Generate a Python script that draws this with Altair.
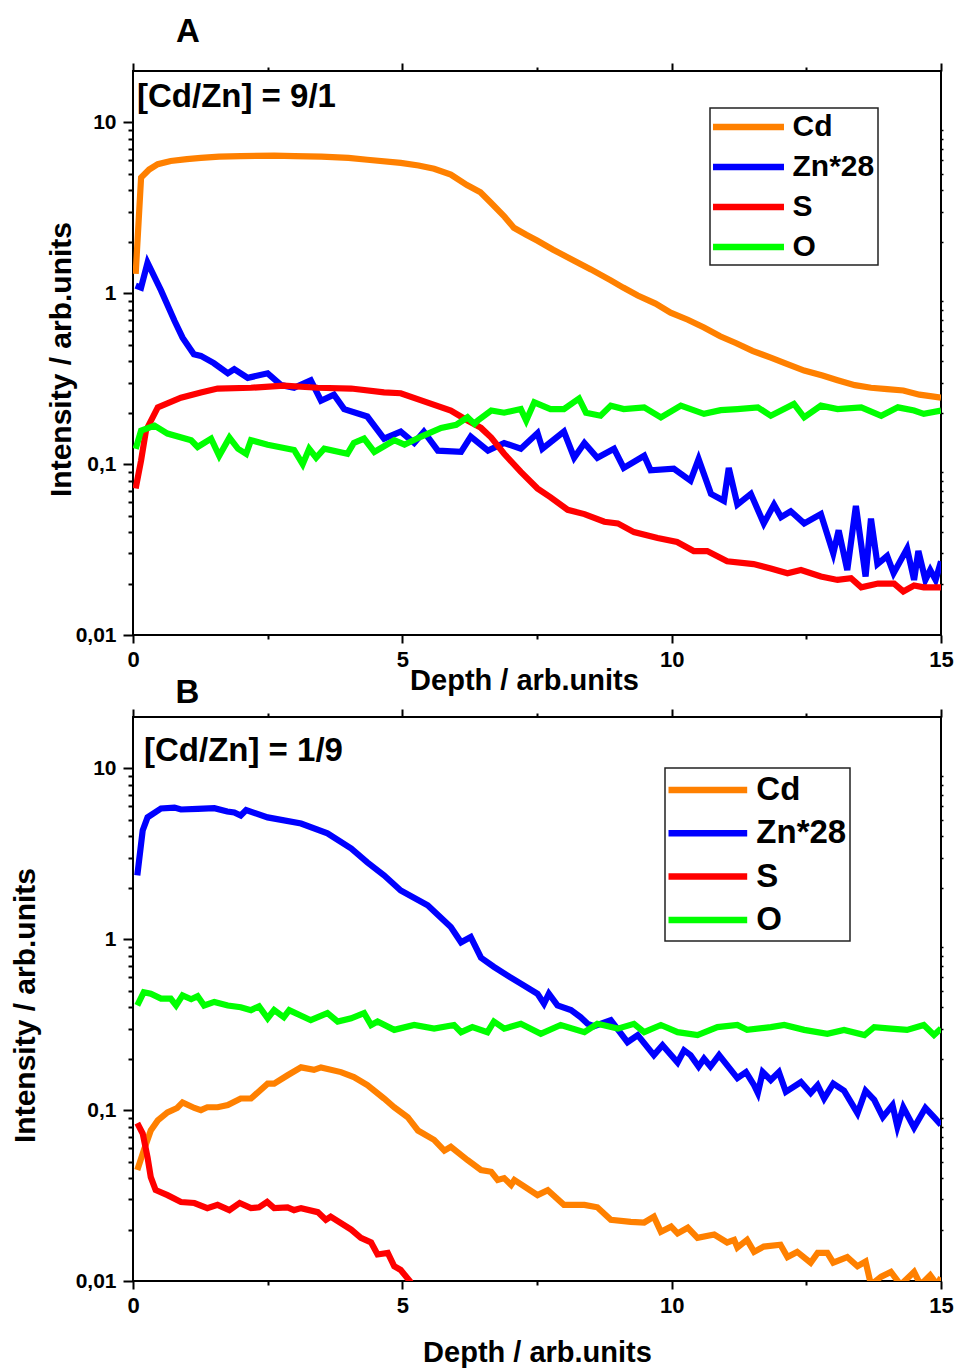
import altair as alt
import pandas as pd

FONT = "Liberation Sans"

elements = ["Cd", "Zn*28", "S", "O"]
colors = ["#FF8000", "#0000FF", "#FF0000", "#00FF00"]

# ---------------- Panel A : [Cd/Zn] = 9/1 ----------------
a_cd_x = [0.05, 0.15, 0.3, 0.46, 0.7, 1.0, 1.26, 1.6, 2.0, 2.62, 3.0, 3.5, 4.0, 4.35, 4.97, 5.3, 5.59,
          5.9, 6.2, 6.45, 6.64, 6.9, 7.07, 7.3, 7.51, 7.8, 8.19, 8.5, 8.87, 9.1, 9.37, 9.7, 9.98, 10.3,
          10.6, 10.9, 11.2, 11.5, 11.84, 12.1, 12.46, 12.8, 13.08, 13.4, 13.7, 14.0, 14.3, 14.6, 14.8, 15.0]
a_cd_y = [1.3, 4.75, 5.3, 5.7, 5.95, 6.1, 6.2, 6.3, 6.35, 6.4, 6.35, 6.3, 6.2, 6.05, 5.8, 5.6, 5.36,
          4.95, 4.3, 3.9, 3.4, 2.8, 2.42, 2.2, 2.03, 1.8, 1.55, 1.38, 1.19, 1.08, 0.97, 0.87, 0.77, 0.7,
          0.63, 0.56, 0.51, 0.46, 0.42, 0.39, 0.353, 0.33, 0.31, 0.29, 0.28, 0.275, 0.27, 0.255, 0.25, 0.245]

a_zn_x = [0.05, 0.15, 0.27, 0.52, 0.77, 0.92, 1.13, 1.26, 1.5, 1.76, 1.88, 2.13, 2.5, 2.75, 2.99, 3.3,
          3.49, 3.73, 3.92, 4.35, 4.66, 4.97, 5.22, 5.4, 5.66, 6.09, 6.27, 6.59, 6.89, 7.2, 7.51, 7.6,
          8.0, 8.19, 8.38, 8.62, 8.93, 9.11, 9.49, 9.61, 10.04, 10.35, 10.5, 10.73, 10.97, 11.06, 11.22,
          11.47, 11.71, 11.9, 12.03, 12.21, 12.46, 12.77, 13.0, 13.1, 13.26, 13.42, 13.6, 13.7, 13.82,
          14.0, 14.12, 14.37, 14.5, 14.58, 14.71, 14.8, 14.9, 15.0]
a_zn_y = [1.11, 1.08, 1.51, 1.04, 0.69, 0.55, 0.44, 0.43, 0.39, 0.34, 0.36, 0.32, 0.34, 0.29, 0.28, 0.31,
          0.235, 0.255, 0.21, 0.19, 0.141, 0.155, 0.133, 0.155, 0.12, 0.118, 0.145, 0.12, 0.133, 0.123,
          0.152, 0.123, 0.155, 0.109, 0.133, 0.109, 0.123, 0.095, 0.112, 0.092, 0.094, 0.08, 0.107,
          0.067, 0.061, 0.095, 0.058, 0.067, 0.045, 0.058, 0.049, 0.053, 0.045, 0.051, 0.030, 0.041,
          0.024, 0.057, 0.022, 0.048, 0.026, 0.029, 0.023, 0.032, 0.021, 0.031, 0.021, 0.024, 0.021, 0.027]

a_s_x = [0.05, 0.15, 0.24, 0.46, 0.89, 1.26, 1.57, 2.19, 2.8, 3.43, 4.05, 4.66, 4.97, 5.35, 5.9, 6.21,
         6.46, 6.65, 6.89, 7.2, 7.51, 7.75, 8.07, 8.38, 8.75, 9.0, 9.3, 9.74, 10.1, 10.41, 10.66, 11.03,
         11.52, 11.84, 12.15, 12.4, 12.77, 13.08, 13.33, 13.52, 13.83, 14.13, 14.3, 14.5, 14.68, 15.0]
a_s_y = [0.072, 0.105, 0.157, 0.215, 0.245, 0.263, 0.277, 0.28, 0.288, 0.28, 0.277, 0.263, 0.26, 0.236,
         0.206, 0.18, 0.163, 0.143, 0.115, 0.09, 0.072, 0.064, 0.054, 0.051, 0.046, 0.045, 0.04, 0.037,
         0.035, 0.031, 0.031, 0.027, 0.026, 0.0245, 0.023, 0.024, 0.022, 0.021, 0.0215, 0.019, 0.020,
         0.020, 0.018, 0.0195, 0.019, 0.019]

a_o_x = [0.05, 0.15, 0.4, 0.64, 1.08, 1.2, 1.45, 1.6, 1.79, 1.95, 2.1, 2.19, 2.5, 2.99, 3.15, 3.27, 3.4,
         3.55, 3.98, 4.1, 4.29, 4.48, 4.85, 5.04, 5.35, 5.72, 6.0, 6.21, 6.34, 6.4, 6.65, 6.89, 7.2, 7.3,
         7.45, 7.75, 8.0, 8.28, 8.41, 8.68, 8.87, 9.11, 9.49, 9.8, 10.17, 10.6, 10.91, 11.22, 11.6,
         11.84, 12.27, 12.46, 12.77, 13.08, 13.52, 13.89, 14.2, 14.5, 14.68, 15.0]
a_o_y = [0.123, 0.157, 0.168, 0.151, 0.138, 0.126, 0.141, 0.112, 0.143, 0.123, 0.115, 0.138, 0.13, 0.121,
         0.1, 0.123, 0.109, 0.123, 0.115, 0.133, 0.141, 0.118, 0.138, 0.13, 0.145, 0.163, 0.17, 0.188,
         0.172, 0.18, 0.206, 0.2, 0.21, 0.18, 0.23, 0.21, 0.21, 0.242, 0.2, 0.192, 0.22, 0.21, 0.215,
         0.188, 0.22, 0.197, 0.207, 0.21, 0.215, 0.192, 0.225, 0.188, 0.22, 0.21, 0.215, 0.192, 0.215,
         0.206, 0.197, 0.206]

# ---------------- Panel B : [Cd/Zn] = 1/9 ----------------
b_cd_x = [0.08, 0.2, 0.33, 0.46, 0.64, 0.82, 0.92, 1.14, 1.26, 1.38, 1.57, 1.76, 2.0, 2.19, 2.5, 2.62,
          2.87, 3.12, 3.36, 3.49, 3.86, 4.1, 4.35, 4.66, 4.85, 5.1, 5.29, 5.59, 5.78, 5.9, 6.21, 6.46,
          6.65, 6.77, 6.89, 7.02, 7.08, 7.51, 7.7, 8.0, 8.38, 8.62, 8.87, 9.24, 9.49, 9.67, 9.8, 9.99,
          10.11, 10.3, 10.48, 10.79, 11.03, 11.16, 11.22, 11.4, 11.53, 11.71, 12.02, 12.15, 12.33, 12.58,
          12.71, 12.89, 13.0, 13.26, 13.45, 13.6, 13.7, 13.89, 14.07, 14.25, 14.5, 14.62, 14.8, 14.93, 15.0]
b_cd_y = [0.0446, 0.058, 0.076, 0.087, 0.097, 0.103, 0.111, 0.103, 0.1, 0.104, 0.104, 0.107, 0.117, 0.117,
          0.143, 0.143, 0.16, 0.178, 0.172, 0.178, 0.167, 0.156, 0.14, 0.117, 0.104, 0.091, 0.076, 0.067,
          0.058, 0.061, 0.051, 0.0446, 0.0436, 0.039, 0.04, 0.0365, 0.039, 0.0318, 0.034, 0.0279, 0.0279,
          0.027, 0.0228, 0.0222, 0.022, 0.0238, 0.0194, 0.0208, 0.019, 0.0205, 0.0179, 0.0187, 0.0168,
          0.0174, 0.0157, 0.0174, 0.0148, 0.0159, 0.0163, 0.0138, 0.0148, 0.0128, 0.0146, 0.0146, 0.0128,
          0.0138, 0.0122, 0.013, 0.0095, 0.0106, 0.0113, 0.0095, 0.0113, 0.0095, 0.0108, 0.0095, 0.0105]

b_zn_x = [0.08, 0.18, 0.27, 0.52, 0.77, 0.89, 1.2, 1.51, 1.75, 1.88, 2.0, 2.1, 2.5, 3.12, 3.61, 4.05,
          4.35, 4.66, 4.97, 5.47, 5.9, 6.09, 6.27, 6.46, 6.7, 7.0, 7.2, 7.51, 7.63, 7.72, 7.88, 8.13,
          8.31, 8.44, 8.56, 8.87, 9.18, 9.37, 9.67, 9.83, 10.11, 10.23, 10.35, 10.5, 10.6, 10.72, 10.88,
          11.22, 11.38, 11.53, 11.6, 11.69, 11.84, 11.99, 12.12, 12.4, 12.58, 12.71, 12.83, 13.0, 13.2,
          13.45, 13.6, 13.76, 13.92, 14.1, 14.19, 14.3, 14.5, 14.71, 14.87, 15.0]
b_zn_y = [2.37, 4.34, 5.17, 5.83, 5.9, 5.75, 5.8, 5.85, 5.6, 5.53, 5.3, 5.7, 5.17, 4.76, 4.17, 3.4,
          2.82, 2.37, 1.93, 1.58, 1.18, 0.96, 1.03, 0.78, 0.69, 0.6, 0.55, 0.48, 0.42, 0.48, 0.41, 0.385,
          0.35, 0.32, 0.31, 0.336, 0.25, 0.275, 0.21, 0.24, 0.19, 0.224, 0.21, 0.18, 0.2, 0.18, 0.21,
          0.154, 0.167, 0.14, 0.126, 0.167, 0.15, 0.167, 0.128, 0.146, 0.126, 0.14, 0.117, 0.143, 0.13,
          0.096, 0.13, 0.115, 0.091, 0.107, 0.08, 0.104, 0.079, 0.103, 0.091, 0.082]

b_s_x = [0.08, 0.18, 0.27, 0.33, 0.42, 0.64, 0.89, 1.14, 1.38, 1.57, 1.79, 1.98, 2.19, 2.34, 2.49, 2.62,
         2.87, 2.99, 3.12, 3.43, 3.58, 3.67, 3.86, 4.05, 4.23, 4.42, 4.54, 4.73, 4.85, 4.97, 5.16]
b_s_y = [0.084, 0.073, 0.053, 0.0405, 0.0341, 0.0318, 0.029, 0.0286, 0.0267, 0.0279, 0.026, 0.0286,
         0.0267, 0.027, 0.029, 0.0267, 0.027, 0.026, 0.0267, 0.0253, 0.0228, 0.0238, 0.0218, 0.02,
         0.0179, 0.0168, 0.0143, 0.0146, 0.0122, 0.0116, 0.0098]

b_o_x = [0.08, 0.2, 0.33, 0.52, 0.7, 0.8, 0.92, 1.08, 1.2, 1.32, 1.51, 1.76, 2.0, 2.19, 2.34, 2.5, 2.62,
         2.8, 2.9, 3.3, 3.61, 3.8, 4.05, 4.29, 4.42, 4.54, 4.85, 5.22, 5.59, 5.96, 6.09, 6.3, 6.58, 6.7,
         6.89, 7.2, 7.57, 7.94, 8.38, 8.62, 9.0, 9.3, 9.49, 9.8, 10.11, 10.48, 10.85, 11.22, 11.4, 11.84,
         12.09, 12.46, 12.89, 13.2, 13.58, 13.76, 14.07, 14.37, 14.68, 14.87, 15.0]
b_o_y = [0.41, 0.49, 0.48, 0.45, 0.45, 0.41, 0.47, 0.446, 0.465, 0.41, 0.43, 0.41, 0.4, 0.385, 0.405,
         0.345, 0.385, 0.35, 0.385, 0.336, 0.37, 0.33, 0.345, 0.37, 0.315, 0.33, 0.295, 0.315, 0.3, 0.315,
         0.286, 0.306, 0.286, 0.33, 0.3, 0.32, 0.28, 0.315, 0.286, 0.32, 0.3, 0.32, 0.286, 0.315, 0.286,
         0.275, 0.306, 0.315, 0.295, 0.306, 0.315, 0.295, 0.28, 0.295, 0.275, 0.306, 0.3, 0.295, 0.315,
         0.275, 0.3]

# ---------------- axis ticks ----------------
x_ticks = [0, 2.5, 5, 7.5, 10, 12.5, 15]
x_major = [0, 5, 10, 15]
y_major = [0.01, 0.1, 1, 10]
y_major_text = ["0,01", "0,1", "1", "10"]
y_minor = [0.02, 0.03, 0.04, 0.05, 0.06, 0.07, 0.08, 0.09,
           0.2, 0.3, 0.4, 0.5, 0.6, 0.7, 0.8, 0.9,
           2, 3, 4, 5, 6, 7, 8, 9]
y_ticks = sorted(y_major + y_minor)

W, H = 808, 564

y_label_expr = " : ".join(f"datum.value == {v} ? '{t}'" for v, t in zip(y_major, y_major_text)) + " : ''"
x_major_list = "[" + ",".join(str(v) for v in x_major) + "]"
y_major_list = "[" + ",".join(str(v) for v in y_major) + "]"
x_label_expr = f"indexof({x_major_list}, datum.value) >= 0 ? datum.label : ''"


def long_df(series):
    rows = []
    for name, xs, ys in series:
        for xv, yv in zip(xs, ys):
            rows.append({"depth": xv, "intensity": yv, "element": name})
    return pd.DataFrame(rows)


def panel(df, letter, letter_pos, note, note_pos, legend, xtitle_pos, ytitle_pos, anchor=False):
    x_scale = alt.Scale(domain=[0, 15], nice=False, zero=False)
    y_scale = alt.Scale(type="log", domain=[0.01, 20], nice=False)

    x_axis = alt.Axis(values=x_ticks, labelExpr=x_label_expr, labelFlush=False, labelOverlap=False,
                      tickSize={"condition": {"test": f"indexof({x_major_list}, datum.value) >= 0", "value": 8}, "value": 4},
                      tickWidth=2, labelFontSize=22, labelPadding=6,
                      title="Depth / arb.units", titleFontSize=29, titleX=xtitle_pos[0], titleY=xtitle_pos[1],
                      titleAlign="center", titleBaseline="alphabetic", titleAngle=0)
    y_axis = alt.Axis(values=y_ticks, labelExpr=y_label_expr, labelFlush=False, labelOverlap=False,
                      tickSize={"condition": {"test": f"indexof({y_major_list}, datum.value) >= 0", "value": 10}, "value": 5},
                      tickWidth=2, labelFontSize=21, labelPadding=7, labelBaseline="middle",
                      title="Intensity / arb.units", titleFontSize=30, titleX=ytitle_pos[0], titleY=ytitle_pos[1],
                      titleAngle=270, titleAlign="center", titleBaseline="alphabetic")

    lines = alt.Chart(df).mark_line(strokeWidth=6.2, clip=True).encode(
        x=alt.X("depth:Q", scale=x_scale, axis=x_axis),
        y=alt.Y("intensity:Q", scale=y_scale, axis=y_axis),
        color=alt.Color("element:N", scale=alt.Scale(domain=elements, range=colors), legend=legend),
    )

    frame_axes = alt.Chart(df).mark_point(opacity=0).encode(
        x=alt.X("depth:Q", scale=x_scale, axis=alt.Axis(orient="top", values=x_ticks, labels=False, title=None,
                                                         tickSize={"condition": {"test": f"indexof({x_major_list}, datum.value) >= 0", "value": 8}, "value": 4},
                                                         tickWidth=2)),
        y=alt.Y("intensity:Q", scale=y_scale, axis=alt.Axis(orient="right", values=y_minor, labels=False, title=None,
                                                             tickSize=2, tickWidth=1.5)),
    )

    one = pd.DataFrame({"t": [letter], "n": [note]})
    letter_mark = alt.Chart(one).mark_text(font=FONT, fontSize=33, fontWeight="bold", align="center",
                                           baseline="alphabetic", color="black").encode(
        text="t:N", x=alt.value(letter_pos[0]), y=alt.value(letter_pos[1]))
    note_mark = alt.Chart(one).mark_text(font=FONT, fontSize=33, fontWeight="bold", align="left",
                                         baseline="alphabetic", color="black").encode(
        text="n:N", x=alt.value(note_pos[0]), y=alt.value(note_pos[1]))

    layers = [lines, frame_axes, letter_mark, note_mark]
    if anchor:
        layers.append(alt.Chart(one).mark_rule(color="white", strokeWidth=1).encode(
            x=alt.value(-131.5), x2=alt.value(-130.5), y=alt.value(-69.5), y2=alt.value(-69.5)))
    return alt.layer(*layers).resolve_axis(x="independent", y="independent").properties(width=W, height=H)


df_a = long_df([("Cd", a_cd_x, a_cd_y), ("Zn*28", a_zn_x, a_zn_y), ("S", a_s_x, a_s_y), ("O", a_o_x, a_o_y)])
df_b = long_df([("Cd", b_cd_x, b_cd_y), ("Zn*28", b_zn_x, b_zn_y), ("S", b_s_x, b_s_y), ("O", b_o_x, b_o_y)])

legend_a = alt.Legend(orient="none", legendX=577, legendY=37, title=None, padding=3,
                      symbolType="M-2.784,0H2.784", symbolSize=650.25, symbolStrokeWidth=6.5,
                      symbolOffset=19.5, labelOffset=28, rowPadding=9,
                      labelFont=FONT, labelFontSize=30, labelFontWeight="bold", labelColor="black",
                      strokeColor="#222222")
legend_b = alt.Legend(orient="none", legendX=532, legendY=51, title=None, padding=3.5,
                      symbolType="M-2.58,0H2.58", symbolSize=930.25, symbolStrokeWidth=6.5,
                      symbolOffset=20.85, labelOffset=30, rowPadding=7.3,
                      labelFont=FONT, labelFontSize=33, labelFontWeight="bold", labelColor="black",
                      strokeColor="#222222")

panel_a = panel(df_a, "A", (55, -29), "[Cd/Zn] = 9/1", (4, 36), legend_a, (391, 54), (-63, 288), anchor=True)
panel_b = panel(df_b, "B", (54.5, -14), "[Cd/Zn] = 1/9", (11, 44), legend_b, (404, 80), (-99, 288))

chart = alt.vconcat(panel_a, panel_b, spacing=82, bounds="flush").resolve_legend(
    color="independent"
).properties(padding=0, background="white").configure_view(
    stroke="black", strokeWidth=2
).configure_axis(
    labelFont=FONT, titleFont=FONT, labelFontWeight="bold", titleFontWeight="bold",
    labelColor="black", titleColor="black", tickColor="black", grid=False, domain=False
).configure_legend(strokeWidth=1.5)

chart.save("out.html", embed_options={"renderer": "svg", "actions": False})
